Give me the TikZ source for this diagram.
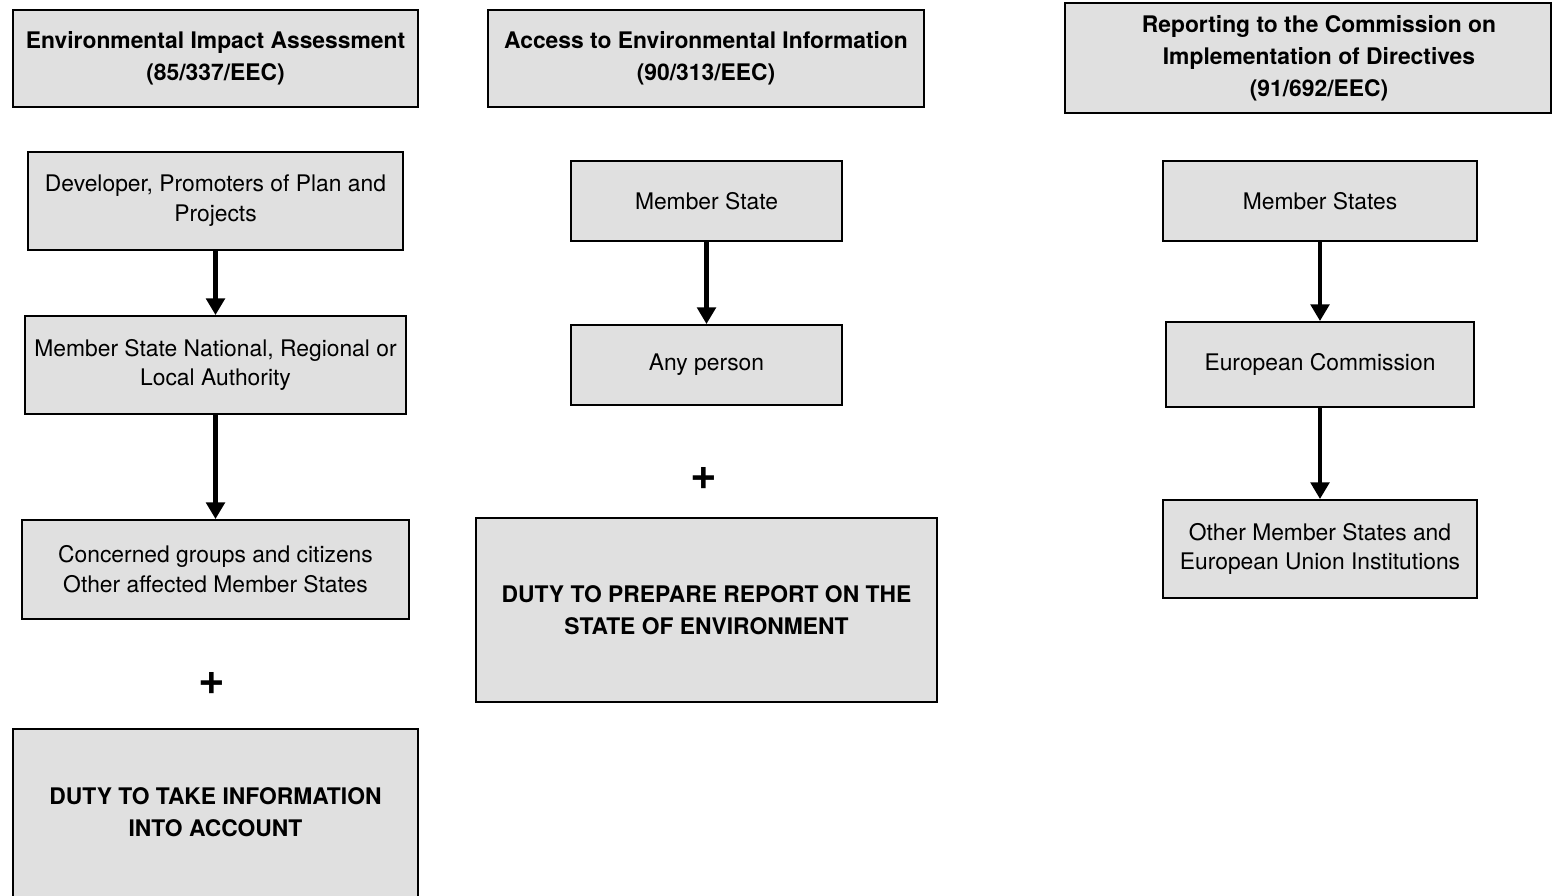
\documentclass[tikz,border=0pt]{standalone}
\usepackage{fontspec}
\setmainfont{TeX Gyre Heros}
\usetikzlibrary{positioning,arrows.meta}
\definecolor{boxgray}{HTML}{E0E0E0}

\begin{document}
\begin{tikzpicture}[
        x=0.02cm, y=-0.02cm,
        box/.style={rectangle, draw, line width=1.1pt, fill=boxgray, inner sep=0pt, align=center, font={\fontsize{13}{17}\selectfont}},
        head/.style={box, font={\fontsize{13}{18.2}\selectfont\bfseries}},
        duty/.style={box, font={\fontsize{13}{18.2}\selectfont\bfseries}},
        plus/.style={font={\fontsize{26}{26}\selectfont\bfseries}, inner sep=0pt},
        arrow/.style={-{Triangle[width=10.5pt,length=9.5pt]}, line width=2.3pt}
    ]
    \useasboundingbox (0,0) rectangle (1553,896);

    % First column
    \node[head, minimum width=8.1cm, minimum height=1.94cm] (eia) at (215.5,58.5) {Environmental Impact Assessment\\(85/337/EEC)};
    \node[box, minimum width=7.5cm, minimum height=1.96cm] (dev) at (215.5,201) {Developer, Promoters of Plan and\\Projects};
    \node[box, minimum width=7.62cm, minimum height=1.96cm] (auth) at (215.5,365) {Member State National, Regional or\\Local Authority};
    \node[box, minimum width=7.74cm, minimum height=1.98cm] (groups) at (215.5,569.5) {Concerned groups and citizens\\Other affected Member States};
    \node[plus] (plusA) at (212,683) {+};
    \node[duty, minimum width=8.1cm, minimum height=3.68cm] (dutyA) at (215.5,821) {DUTY TO TAKE INFORMATION\\INTO ACCOUNT\\[-8pt]};

    % Second column
    \node[head, minimum width=8.72cm, minimum height=1.94cm] (info) at (706,58.5) {Access to Environmental Information\\(90/313/EEC)};
    \node[box, minimum width=5.42cm, minimum height=1.6cm] (state) at (706.5,201) {Member State};
    \node[box, minimum width=5.42cm, minimum height=1.6cm] (person) at (706.5,365) {Any person};
    \node[plus] (plusB) at (704,478) {+};
    \node[duty, minimum width=9.22cm, minimum height=3.68cm] (dutyB) at (706.5,610) {DUTY TO PREPARE REPORT ON THE\\STATE OF ENVIRONMENT};

    % Third column
    \node[head, minimum width=9.72cm, minimum height=2.2cm] (report) at (1308,58) {\hspace*{0.44cm}Reporting to the Commission on\\\hspace*{0.44cm}Implementation of Directives\\\hspace*{0.44cm}(91/692/EEC)};
    \node[box, minimum width=6.28cm, minimum height=1.6cm] (states) at (1320,201) {Member States};
    \node[box, minimum width=6.16cm, minimum height=1.7cm] (comm) at (1320,364.5) {European Commission};
    \node[box, minimum width=6.28cm, minimum height=1.96cm] (others) at (1320,549) {Other Member States and\\European Union Institutions};

    % Define connections
    \draw[arrow] (dev) -- (auth);
    \draw[arrow] (auth) -- (groups);

    \draw[arrow] (state) -- (person);

    \draw[arrow] (states) -- (comm);
    \draw[arrow] (comm) -- (others);

\end{tikzpicture}
\end{document}
